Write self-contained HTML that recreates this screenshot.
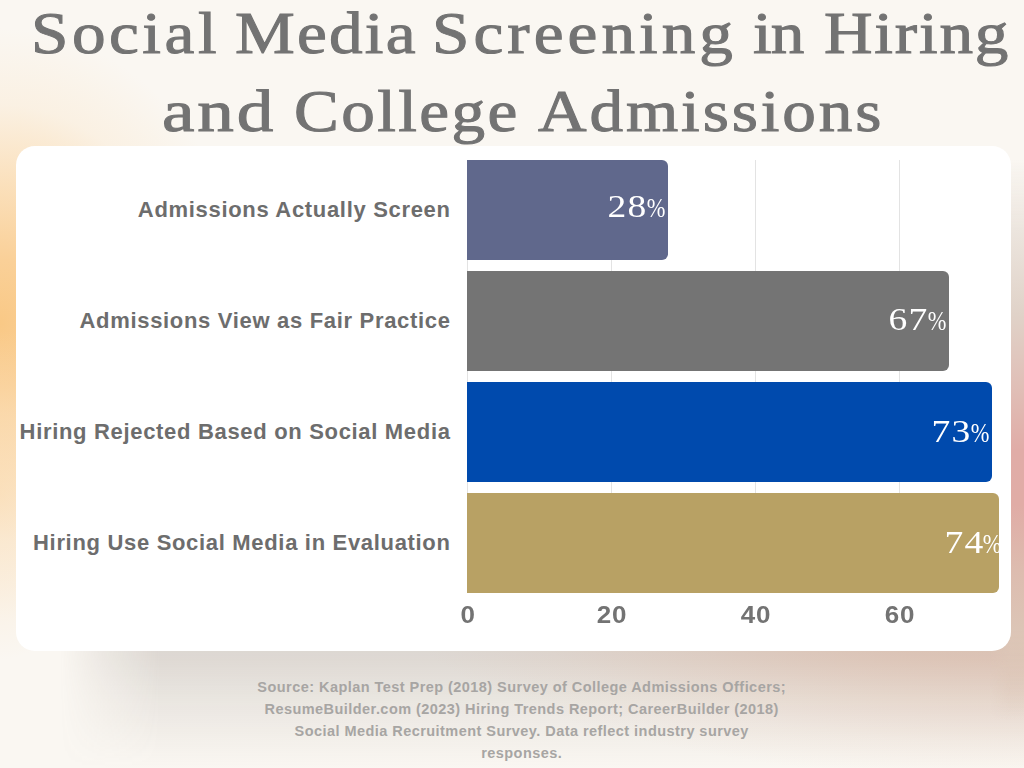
<!DOCTYPE html>
<html>
<head>
<meta charset="utf-8">
<title>Social Media Screening in Hiring and College Admissions</title>
<style>
  html, body { margin: 0; padding: 0; }
  body {
    width: 1024px; height: 768px; overflow: hidden; position: relative;
    background: #faf7f2;
    font-family: "Liberation Sans", sans-serif;
  }
  .bg { position: absolute; left: 0; top: 0; width: 1024px; height: 768px; }
  .glow-l {
    position: absolute; left: -250px; top: 28px; width: 500px; height: 590px;
    background: radial-gradient(ellipse closest-side at center, rgba(249,198,128,0.95) 0%, rgba(250,203,140,0.88) 22%, rgba(251,215,166,0.66) 50%, rgba(251,228,196,0.33) 74%, rgba(251,236,214,0) 100%);
  }
  .glow-l2 {
    position: absolute; left: -100px; top: 330px; width: 200px; height: 330px;
    background: radial-gradient(ellipse closest-side at center, rgba(250,216,170,0.45) 0%, rgba(250,222,184,0.3) 50%, rgba(251,232,205,0) 100%);
  }
  .strip-r {
    position: absolute; left: 990px; top: 100px; width: 34px; height: 640px;
    background: linear-gradient(to bottom,
      rgba(238,231,224,0) 60px, rgba(236,229,222,1) 130px, rgba(224,210,200,1) 215px,
      rgba(224,190,182,1) 290px, rgba(224,172,167,1) 350px, rgba(224,172,166,1) 405px,
      rgba(221,188,175,1) 470px, rgba(220,197,182,1) 530px, rgba(221,199,184,0.7) 565px, rgba(224,204,190,0) 620px);
    -webkit-mask-image: linear-gradient(to right, transparent 0, black 20px);
            mask-image: linear-gradient(to right, transparent 0, black 20px);
  }
  .shadow {
    position: absolute; left: 60px; top: 630px; width: 964px; height: 138px;
    background: linear-gradient(to bottom, rgba(120,108,100,0.25) 0px, rgba(120,108,100,0.22) 25px, rgba(120,108,100,0.12) 70px, rgba(120,108,100,0.03) 120px, rgba(120,108,100,0) 138px);
    -webkit-mask-image: linear-gradient(to right, transparent 0, rgba(0,0,0,0.5) 45px, black 100px);
            mask-image: linear-gradient(to right, transparent 0, rgba(0,0,0,0.5) 45px, black 100px);
  }
  .warm {
    position: absolute; left: 380px; top: 380px; width: 1280px; height: 400px;
    background: radial-gradient(ellipse closest-side at center, rgba(214,150,120,0.42) 0%, rgba(216,156,126,0.34) 40%, rgba(218,160,130,0.20) 62%, rgba(220,165,135,0.08) 82%, rgba(220,165,135,0) 100%);
  }
  .card {
    position: absolute; left: 16px; top: 146px; width: 995px; height: 505px;
    background: #ffffff; border-radius: 19px;
  }
  .tw {
    position: absolute; font-family: "Liberation Serif", serif; font-size: 60px; color: #737373;
    white-space: nowrap; line-height: 1; transform: scaleX(1.12); transform-origin: 0 0;
    -webkit-text-stroke: 1.0px #737373;
  }
  .grid { position: absolute; top: 160px; width: 1px; height: 433px; background: #e3e3e3; }
  .bar { position: absolute; left: 467px; height: 99.5px; border-radius: 0 6px 6px 0; }
  .val { position: absolute; right: 0; top: 0; width: 0; height: 0; color: #fff;
    font-family: "Liberation Serif", serif; white-space: nowrap; line-height: 1; }
  .val .d { position: absolute; right: 20.7px; top: 31.7px; font-size: 30.5px; letter-spacing: 0.9px;
    transform: scaleX(1.23); transform-origin: 100% 0; }
  .val .p { position: absolute; right: 2.6px; top: 34.6px; font-size: 27px;
    transform: scaleX(0.83); transform-origin: 100% 0; }
  .lab {
    position: absolute; right: 573.4px; width: 460px; text-align: right; white-space: nowrap;
    font-weight: bold; font-size: 22px; color: #6d6d6d; line-height: 1; letter-spacing: 0.68px;
  }
  .tick {
    position: absolute; top: 603.6px; width: 60px; margin-left: -29.3px; text-align: center;
    font-weight: bold; font-size: 23px; color: #737373; line-height: 1; letter-spacing: 0.6px; transform: scaleX(1.13); transform-origin: 50% 0;
  }
  .src {
    position: absolute; left: 200px; width: 643.4px; top: 677.3px; text-align: center;
    font-weight: bold; font-size: 14.5px; line-height: 21.9px; color: #a7a5a3; letter-spacing: 0.45px;
  }
</style>
</head>
<body>
  <div class="bg">
    <div class="glow-l"></div>
    <div class="glow-l2"></div>
    <div class="shadow"></div>
    <div class="warm"></div>
    <div class="strip-r"></div>
  </div>

  <span class="tw" style="left:30.9px;top:3.3px;letter-spacing:3.14px">Social</span>
  <span class="tw" style="left:234.5px;top:3.3px;letter-spacing:1.98px">Media</span>
  <span class="tw" style="left:432.4px;top:3.3px;letter-spacing:3.60px">Screening</span>
  <span class="tw" style="left:753.2px;top:3.3px;letter-spacing:-0.76px">in</span>
  <span class="tw" style="left:824.0px;top:3.3px;letter-spacing:1.61px">Hiring</span>
  <span class="tw" style="left:162.2px;top:80.7px;letter-spacing:2.36px;transform:scaleX(1.22)">and</span>
  <span class="tw" style="left:293.9px;top:80.7px;letter-spacing:2.12px">College</span>
  <span class="tw" style="left:538.4px;top:80.7px;letter-spacing:2.58px">Admissions</span>

  <div class="card"></div>

  <div class="grid" style="left:467px"></div>
  <div class="grid" style="left:611px"></div>
  <div class="grid" style="left:755px"></div>
  <div class="grid" style="left:899px"></div>

  <div class="bar" style="top:160.2px;width:201px;background:#60688c"><div class="val"><span class="d">28</span><span class="p">%</span></div></div>
  <div class="bar" style="top:271.3px;width:482px;background:#747474"><div class="val" style="top:2px"><span class="d">67</span><span class="p">%</span></div></div>
  <div class="bar" style="top:382.3px;width:525px;background:#004aad"><div class="val" style="top:3.2px"><span class="d">73</span><span class="p">%</span></div></div>
  <div class="bar" style="top:493.3px;width:532px;background:#b8a164"><div class="val" style="top:3.2px;right:-5.5px"><span class="d">74</span><span class="p">%</span></div></div>

  <div class="lab" style="top:198.7px">Admissions Actually Screen</div>
  <div class="lab" style="top:309.7px">Admissions View as Fair Practice</div>
  <div class="lab" style="top:420.7px">Hiring Rejected Based on Social Media</div>
  <div class="lab" style="top:531.7px">Hiring Use Social Media in Evaluation</div>

  <div class="tick" style="left:467px">0</div>
  <div class="tick" style="left:611px">20</div>
  <div class="tick" style="left:755px">40</div>
  <div class="tick" style="left:899px">60</div>

  <div class="src">Source: Kaplan Test Prep (2018) Survey of College Admissions Officers;<br>ResumeBuilder.com (2023) Hiring Trends Report; CareerBuilder (2018)<br>Social Media Recruitment Survey. Data reflect industry survey<br>responses.</div>
</body>
</html>
